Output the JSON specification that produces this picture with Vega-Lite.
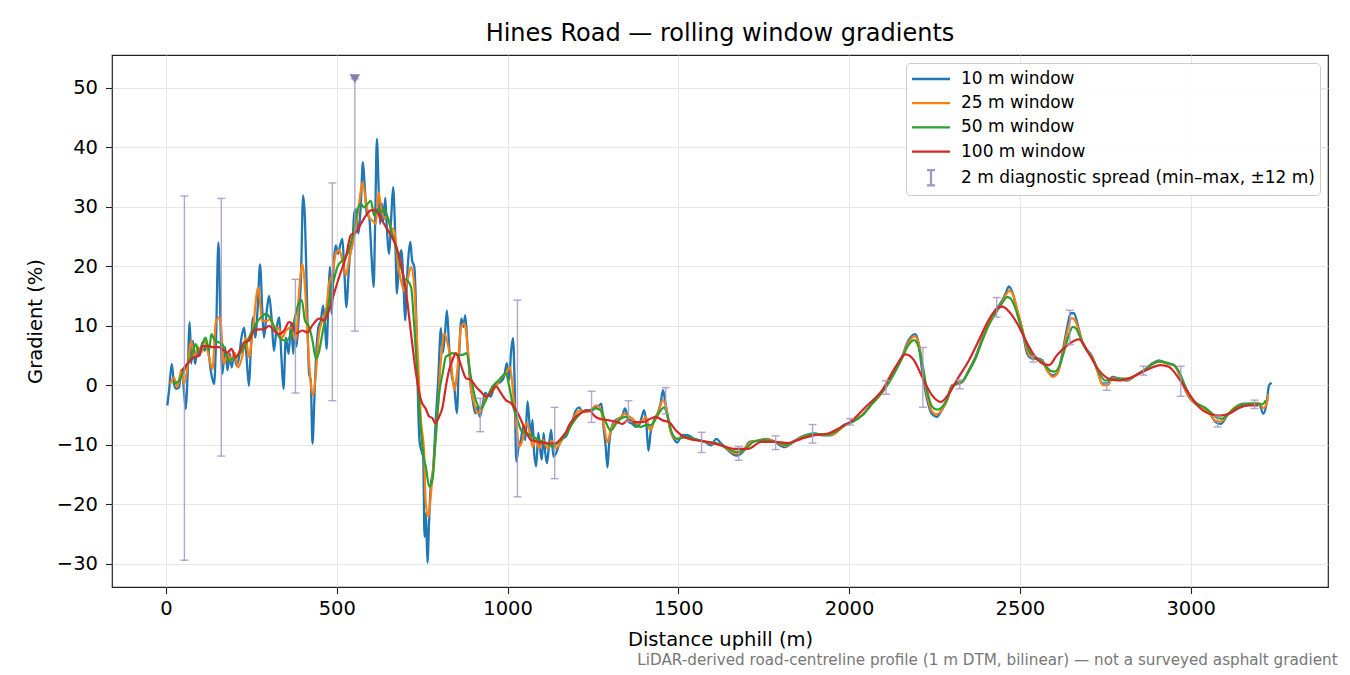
{
  "$schema": "https://vega.github.io/schema/vega-lite/v6.json",
  "padding": {"left": 24, "top": 21, "right": 0, "bottom": 0},
  "autosize": {"type": "pad"},
  "background": "white",
  "title": {
    "text": "LiDAR-derived road-centreline profile (1 m DTM, bilinear) — not a surveyed asphalt gradient",
    "orient": "bottom", "anchor": "end", "fontSize": 15.2, "fontWeight": "normal",
    "color": "#777777", "offset": 4, "dx": 9
  },
  "datasets": {
    "w10": [
      {"d":4,"g":-3.4},{"d":9,"g":-0.9},{"d":17,"g":3.6},{"d":23.5,"g":0.2},{"d":30,"g":-0.6},{"d":38,"g":-0.4},
      {"d":45,"g":2.4},{"d":51,"g":0.2},{"d":58,"g":-4.0},{"d":63,"g":1.3},{"d":69.5,"g":10.6},{"d":74,"g":3.6},
      {"d":79,"g":7.5},{"d":85,"g":3.6},{"d":92,"g":5.8},{"d":99,"g":5.0},{"d":106.5,"g":7.2},{"d":113,"g":5.8},
      {"d":121,"g":6.9},{"d":131,"g":2.5},{"d":141,"g":0.2},{"d":146,"g":6.4},{"d":153.5,"g":24.0},{"d":160,"g":9.7},
      {"d":165,"g":1.9},{"d":173,"g":6.4},{"d":180,"g":2.5},{"d":187,"g":5.3},{"d":192.5,"g":3.0},{"d":199,"g":5.3},
      {"d":207,"g":3.3},{"d":214,"g":4.7},{"d":221,"g":8.0},{"d":229,"g":9.7},{"d":236,"g":4.7},{"d":243,"g":-0.1},
      {"d":248,"g":5.5},{"d":255,"g":11.4},{"d":261,"g":8.0},{"d":268,"g":12.5},{"d":275.5,"g":20.3},{"d":282,"g":12.5},
      {"d":287,"g":8.0},{"d":295,"g":12.5},{"d":302,"g":15.0},{"d":309,"g":11.4},{"d":316,"g":5.8},{"d":324,"g":9.7},
      {"d":331,"g":11.4},{"d":338,"g":4.7},{"d":344,"g":-0.6},{"d":351,"g":8.0},{"d":359,"g":5.3},{"d":366,"g":10.3},
      {"d":373,"g":5.3},{"d":376,"g":10.5},{"d":382,"g":6.5},{"d":388,"g":10.9},{"d":395,"g":17.6},{"d":401.5,"g":31.9},
      {"d":407,"g":27.7},{"d":412,"g":16.5},{"d":419,"g":2.0},{"d":424,"g":0.8},{"d":429,"g":-9.8},{"d":434,"g":-3.1},
      {"d":439,"g":4.2},{"d":446.5,"g":9.8},{"d":453.5,"g":10.9},{"d":460,"g":13.4},{"d":466,"g":9.8},{"d":470,"g":6.1},
      {"d":475,"g":13.1},{"d":479.5,"g":19.9},{"d":485.5,"g":12.0},{"d":490,"g":19.3},{"d":497,"g":23.5},{"d":504,"g":22.1},
      {"d":510,"g":23.5},{"d":516.5,"g":24.6},{"d":522,"g":19.3},{"d":528.5,"g":13.1},{"d":534,"g":18.2},{"d":539,"g":22.1},
      {"d":546,"g":23.8},{"d":551,"g":28.8},{"d":556,"g":29.6},{"d":563,"g":25.5},{"d":570.5,"g":30.5},{"d":576.5,"g":37.5},
      {"d":582,"g":33.3},{"d":588,"g":28.8},{"d":595,"g":28.2},{"d":602,"g":21.5},{"d":608,"g":16.5},{"d":612.5,"g":27.7},
      {"d":617.5,"g":41.4},{"d":622.5,"g":33.3},{"d":627,"g":27.1},{"d":632,"g":30.5},{"d":637,"g":27.7},{"d":642,"g":31.5},
      {"d":646.5,"g":26.6},{"d":653.5,"g":22.1},{"d":659,"g":27.7},{"d":665,"g":33.3},{"d":671,"g":25.5},{"d":676,"g":15.4},
      {"d":683,"g":21.0},{"d":689,"g":22.7},{"d":695,"g":17.6},{"d":700,"g":10.9},{"d":705.5,"g":17.6},{"d":710.5,"g":22.1},
      {"d":715.5,"g":24.1},{"d":720.5,"g":21.0},{"d":727,"g":19.9},{"d":732,"g":13.1},{"d":737,"g":-0.3},{"d":742,"g":-9.2},
      {"d":748,"g":-11.0},{"d":753,"g":-12.0},{"d":757,"g":-25.5},{"d":761,"g":-21.5},{"d":765.5,"g":-29.8},{"d":770.5,"g":-22.6},
      {"d":775,"g":-17.0},{"d":782,"g":-14.2},{"d":790,"g":-5.8},{"d":797,"g":0.9},{"d":805,"g":9.6},{"d":810,"g":5.4},
      {"d":817,"g":8.7},{"d":822.5,"g":12.6},{"d":829,"g":6.5},{"d":837,"g":1.5},{"d":844,"g":-0.2},{"d":851.5,"g":-4.7},
      {"d":858.5,"g":5.4},{"d":865,"g":11.2},{"d":871,"g":9.8},{"d":876,"g":11.8},{"d":883,"g":6.5},{"d":890,"g":0.9},
      {"d":898,"g":-2.5},{"d":905.5,"g":-4.7},{"d":912,"g":-3.6},{"d":919,"g":-5.3},{"d":927,"g":-3.3},{"d":934.5,"g":-1.3},
      {"d":941.5,"g":-1.6},{"d":951,"g":-1.9},{"d":961,"g":-0.2},{"d":971,"g":0.3},{"d":980.5,"g":0.6},{"d":990,"g":1.5},
      {"d":998,"g":3.7},{"d":1005,"g":0.9},{"d":1010,"g":5.4},{"d":1016,"g":7.9},{"d":1021,"g":-0.2},{"d":1025.5,"g":-12.8},
      {"d":1032.5,"g":-10.3},{"d":1039,"g":-9.2},{"d":1046,"g":-6.9},{"d":1052,"g":-9.2},{"d":1058.5,"g":-2.7},{"d":1063.5,"g":-5.8},
      {"d":1068,"g":-9.2},{"d":1073,"g":-5.8},{"d":1078,"g":-11.4},{"d":1084,"g":-13.6},{"d":1090,"g":-8.0},{"d":1095.5,"g":-10.8},
      {"d":1100.5,"g":-12.5},{"d":1105.5,"g":-8.0},{"d":1110.5,"g":-11.4},{"d":1115.5,"g":-13.1},{"d":1122,"g":-9.7},{"d":1128,"g":-7.5},
      {"d":1134,"g":-12.0},{"d":1141.5,"g":-11.5},{"d":1151,"g":-10.0},{"d":1161,"g":-9.0},{"d":1171,"g":-8.6},{"d":1180.5,"g":-7.3},
      {"d":1190,"g":-5.9},{"d":1200,"g":-4.2},{"d":1210,"g":-3.7},{"d":1219.5,"g":-4.5},{"d":1229,"g":-4.2},{"d":1239,"g":-4.2},
      {"d":1249,"g":-4.2},{"d":1258,"g":-3.7},{"d":1268,"g":-3.4},{"d":1275,"g":-3.1},{"d":1281,"g":-7.0},{"d":1287.5,"g":-10.4},
      {"d":1292.5,"g":-13.8},{"d":1297.5,"g":-9.8},{"d":1305,"g":-7.0},{"d":1315,"g":-5.9},{"d":1325,"g":-5.6},{"d":1334.5,"g":-5.3},
      {"d":1344,"g":-3.9},{"d":1349,"g":-4.8},{"d":1356,"g":-6.2},{"d":1366,"g":-6.5},{"d":1375.5,"g":-7.0},{"d":1385,"g":-6.7},
      {"d":1393,"g":-5.3},{"d":1400,"g":-4.2},{"d":1406.5,"g":-6.5},{"d":1412.5,"g":-11.0},{"d":1419,"g":-7.9},{"d":1429,"g":-5.9},
      {"d":1438.5,"g":-4.8},{"d":1448,"g":-3.1},{"d":1455,"g":-0.8},{"d":1461,"g":-2.5},{"d":1467.5,"g":-4.8},{"d":1477,"g":-7.6},
      {"d":1487,"g":-9.0},{"d":1497,"g":-9.6},{"d":1511,"g":-8.4},{"d":1526,"g":-8.4},{"d":1547,"g":-9.0},{"d":1577,"g":-9.5},
      {"d":1596,"g":-10.1},{"d":1611,"g":-9.0},{"d":1625.5,"g":-9.8},{"d":1645,"g":-10.9},{"d":1669.5,"g":-11.8},{"d":1689,"g":-11.2},
      {"d":1708.5,"g":-9.5},{"d":1733,"g":-9.3},{"d":1757,"g":-9.0},{"d":1782,"g":-9.5},{"d":1811.5,"g":-10.4},{"d":1841,"g":-9.3},
      {"d":1870,"g":-8.4},{"d":1899.5,"g":-8.1},{"d":1924,"g":-8.4},{"d":1948,"g":-8.4},{"d":1968,"g":-7.6},{"d":1983,"g":-6.7},
      {"d":2007,"g":-6.2},{"d":2036.5,"g":-5.1},{"d":2066,"g":-3.1},{"d":2095,"g":-1.2},{"d":2115,"g":0.5},{"d":2134.5,"g":2.5},
      {"d":2154,"g":4.7},{"d":2173.5,"g":7.5},{"d":2193,"g":8.6},{"d":2203,"g":7.2},{"d":2212.5,"g":3.0},{"d":2227,"g":-2.0},
      {"d":2242,"g":-4.8},{"d":2256.5,"g":-5.3},{"d":2271,"g":-4.2},{"d":2286,"g":-2.6},{"d":2301,"g":0.0},{"d":2315.5,"g":0.2},
      {"d":2330,"g":0.5},{"d":2350,"g":2.5},{"d":2369.5,"g":4.7},{"d":2389,"g":7.8},{"d":2408.5,"g":10.6},{"d":2429,"g":12.6},
      {"d":2447.5,"g":14.2},{"d":2458,"g":15.4},{"d":2468,"g":16.6},{"d":2477.5,"g":15.7},{"d":2492,"g":12.6},{"d":2507,"g":9.3},
      {"d":2521.5,"g":5.3},{"d":2536,"g":4.5},{"d":2551,"g":4.5},{"d":2565.5,"g":4.2},{"d":2580,"g":2.5},{"d":2594.5,"g":1.7},
      {"d":2609,"g":2.0},{"d":2624,"g":5.3},{"d":2638.5,"g":9.8},{"d":2648.5,"g":12.1},{"d":2658,"g":12.1},{"d":2671,"g":9.8},
      {"d":2682.5,"g":7.3},{"d":2697,"g":5.9},{"d":2712,"g":4.8},{"d":2726.5,"g":2.5},{"d":2741,"g":0.3},{"d":2756,"g":0.3},
      {"d":2770.5,"g":1.4},{"d":2790,"g":1.1},{"d":2814.5,"g":0.8},{"d":2839,"g":1.7},{"d":2863,"g":2.5},{"d":2888,"g":3.7},
      {"d":2907,"g":4.2},{"d":2927,"g":3.7},{"d":2951,"g":3.4},{"d":2966,"g":2.0},{"d":2980.5,"g":-0.3},{"d":2995,"g":-2.0},
      {"d":3014.5,"g":-3.1},{"d":3034,"g":-3.65},{"d":3053.5,"g":-4.5},{"d":3073,"g":-6.2},{"d":3088,"g":-6.5},{"d":3107,"g":-5.1},
      {"d":3132,"g":-3.65},{"d":3156,"g":-3.1},{"d":3180.5,"g":-3.1},{"d":3200,"g":-3.1},{"d":3213,"g":-4.8},{"d":3222,"g":-3.1},
      {"d":3229.5,"g":0.0},{"d":3237,"g":0.4}
    ],
    "w25": [
      {"d":12,"g":0.2},{"d":23.5,"g":1.3},{"d":33,"g":-0.3},{"d":45,"g":2.5},{"d":53,"g":0.2},{"d":63,"g":3.0},
      {"d":74,"g":7.5},{"d":82,"g":4.7},{"d":94,"g":6.4},{"d":103.5,"g":5.5},{"d":113,"g":7.5},{"d":126,"g":4.7},
      {"d":136,"g":2.7},{"d":146,"g":10.6},{"d":158,"g":11.4},{"d":170,"g":3.6},{"d":180,"g":5.3},{"d":191.5,"g":4.1},
      {"d":201,"g":5.5},{"d":211,"g":3.0},{"d":224,"g":5.0},{"d":233.5,"g":8.0},{"d":243,"g":4.7},{"d":255,"g":9.7},
      {"d":270,"g":16.4},{"d":282,"g":10.8},{"d":295,"g":10.8},{"d":305,"g":11.1},{"d":316,"g":9.7},{"d":328,"g":9.7},
      {"d":341,"g":8.0},{"d":351,"g":9.2},{"d":366,"g":9.7},{"d":380,"g":7.5},{"d":390,"g":16.0},{"d":399.5,"g":20.4},
      {"d":407,"g":16.5},{"d":414,"g":8.7},{"d":424,"g":0.3},{"d":431,"g":-1.7},{"d":439,"g":2.0},{"d":448,"g":8.7},
      {"d":458,"g":10.9},{"d":470,"g":13.1},{"d":477.5,"g":17.1},{"d":487.5,"g":18.7},{"d":497,"g":22.1},{"d":507,"g":22.7},
      {"d":516.5,"g":21.0},{"d":526.5,"g":18.5},{"d":536,"g":21.0},{"d":546,"g":23.8},{"d":556,"g":26.6},{"d":566,"g":30.8},
      {"d":575.5,"g":34.1},{"d":585,"g":31.0},{"d":595,"g":28.2},{"d":604.5,"g":27.7},{"d":614.5,"g":27.1},{"d":622.5,"g":32.4},
      {"d":630,"g":29.9},{"d":639,"g":28.2},{"d":648.5,"g":28.2},{"d":658.5,"g":26.6},{"d":668,"g":26.0},{"d":678,"g":21.0},
      {"d":688,"g":17.6},{"d":697.5,"g":15.9},{"d":707,"g":17.6},{"d":717.5,"g":19.9},{"d":727,"g":16.5},{"d":737,"g":5.3},
      {"d":746.5,"g":-5.9},{"d":756,"g":-11.5},{"d":760.5,"g":-19.8},{"d":768.5,"g":-22.1},{"d":775,"g":-18.7},{"d":785,"g":-12.0},
      {"d":795,"g":-4.7},{"d":805,"g":4.25},{"d":815,"g":8.7},{"d":824.5,"g":7.0},{"d":834,"g":4.25},{"d":844,"g":-0.8},
      {"d":854,"g":3.1},{"d":864,"g":9.8},{"d":873.5,"g":10.4},{"d":883,"g":6.5},{"d":892.5,"g":-0.2},{"d":902.5,"g":-3.0},
      {"d":912,"g":-4.7},{"d":925,"g":-4.1},{"d":936.5,"g":-1.9},{"d":951,"g":-1.3},{"d":966,"g":-0.2},{"d":980.5,"g":1.2},
      {"d":995,"g":2.0},{"d":1007,"g":3.1},{"d":1016.5,"g":-1.3},{"d":1026.5,"g":-6.9},{"d":1034,"g":-10.3},{"d":1044,"g":-9.2},
      {"d":1054,"g":-6.4},{"d":1063.5,"g":-7.5},{"d":1073,"g":-10.3},{"d":1083,"g":-9.2},{"d":1092.5,"g":-10.6},{"d":1104,"g":-9.2},
      {"d":1117,"g":-10.6},{"d":1130,"g":-9.4},{"d":1142,"g":-10.6},{"d":1157,"g":-9.4},{"d":1171,"g":-8.0},{"d":1180.5,"g":-7.3},
      {"d":1200,"g":-4.8},{"d":1214.5,"g":-4.2},{"d":1229,"g":-4.5},{"d":1244,"g":-4.2},{"d":1258,"g":-3.4},{"d":1270,"g":-3.7},
      {"d":1283,"g":-7.0},{"d":1292.5,"g":-9.6},{"d":1302,"g":-7.6},{"d":1315,"g":-6.2},{"d":1327,"g":-5.6},{"d":1341.5,"g":-4.8},
      {"d":1351,"g":-5.1},{"d":1366,"g":-5.6},{"d":1380.5,"g":-6.5},{"d":1395,"g":-5.9},{"d":1405,"g":-5.3},{"d":1417.5,"g":-7.6},
      {"d":1429,"g":-6.2},{"d":1443.5,"g":-4.2},{"d":1455,"g":-2.5},{"d":1466,"g":-4.2},{"d":1477,"g":-7.6},{"d":1492,"g":-9.0},
      {"d":1516.5,"g":-8.7},{"d":1547,"g":-9.1},{"d":1577,"g":-9.5},{"d":1600,"g":-9.8},{"d":1625,"g":-10.0},{"d":1645,"g":-10.8},
      {"d":1670,"g":-11.5},{"d":1690,"g":-11.0},{"d":1710,"g":-9.6},{"d":1735,"g":-9.3},{"d":1760,"g":-9.1},{"d":1785,"g":-9.5},
      {"d":1812,"g":-10.2},{"d":1841,"g":-9.4},{"d":1870,"g":-8.5},{"d":1900,"g":-8.2},{"d":1925,"g":-8.4},{"d":1950,"g":-8.3},
      {"d":1970,"g":-7.6},{"d":1985,"g":-6.8},{"d":2007,"g":-6.2},{"d":2036,"g":-5.1},{"d":2066,"g":-3.2},{"d":2095,"g":-1.3},
      {"d":2115,"g":0.4},{"d":2135,"g":2.4},{"d":2154,"g":4.6},{"d":2174,"g":7.2},{"d":2192,"g":8.2},{"d":2205,"g":6.8},
      {"d":2214,"g":3.5},{"d":2228,"g":-1.5},{"d":2243,"g":-4.4},{"d":2257,"g":-4.9},{"d":2272,"g":-4.0},{"d":2287,"g":-2.5},
      {"d":2301,"g":-0.2},{"d":2316,"g":0.3},{"d":2330,"g":0.5},{"d":2350,"g":2.4},{"d":2370,"g":4.6},{"d":2389,"g":7.6},
      {"d":2409,"g":10.4},{"d":2429,"g":12.4},{"d":2448,"g":14.0},{"d":2460,"g":15.3},{"d":2470,"g":15.9},{"d":2480,"g":15.2},
      {"d":2494,"g":12.3},{"d":2509,"g":9.0},{"d":2523,"g":5.6},{"d":2537,"g":4.6},{"d":2552,"g":4.4},{"d":2566,"g":4.0},
      {"d":2581,"g":2.4},{"d":2596,"g":1.4},{"d":2610,"g":2.0},{"d":2625,"g":5.1},{"d":2640,"g":9.3},{"d":2651,"g":11.3},
      {"d":2660,"g":11.0},{"d":2672,"g":9.3},{"d":2684,"g":7.0},{"d":2698,"g":5.7},{"d":2713,"g":4.6},{"d":2728,"g":2.2},
      {"d":2743,"g":0.0},{"d":2757,"g":0.0},{"d":2771,"g":1.2},{"d":2790,"g":1.1},{"d":2815,"g":0.9},{"d":2839,"g":1.7},
      {"d":2863,"g":2.5},{"d":2888,"g":3.6},{"d":2907,"g":4.0},{"d":2927,"g":3.7},{"d":2951,"g":3.4},{"d":2966,"g":2.0},
      {"d":2981,"g":-0.3},{"d":2995,"g":-1.9},{"d":3015,"g":-3.1},{"d":3034,"g":-3.7},{"d":3054,"g":-4.6},{"d":3073,"g":-6.0},
      {"d":3088,"g":-6.1},{"d":3107,"g":-5.0},{"d":3132,"g":-3.6},{"d":3156,"g":-3.2},{"d":3181,"g":-3.1},{"d":3200,"g":-3.0},
      {"d":3213,"g":-3.8},{"d":3222,"g":-3.2},{"d":3227.5,"g":-1.5}
    ],
    "w50": [
      {"d":20,"g":0.3},{"d":33,"g":0.5},{"d":48,"g":1.9},{"d":63,"g":3.6},{"d":77,"g":5.3},{"d":87,"g":6.9},
      {"d":97,"g":5.5},{"d":106.5,"g":6.9},{"d":116,"g":8.0},{"d":126,"g":5.8},{"d":133,"g":8.6},{"d":143,"g":7.5},
      {"d":155.5,"g":7.2},{"d":165,"g":6.9},{"d":175,"g":5.5},{"d":185,"g":4.1},{"d":194.5,"g":4.4},{"d":204,"g":4.7},
      {"d":219,"g":5.5},{"d":233.5,"g":6.9},{"d":248,"g":8.6},{"d":263,"g":10.3},{"d":277.5,"g":11.4},{"d":292,"g":12.0},
      {"d":307,"g":11.1},{"d":321.5,"g":9.2},{"d":336,"g":7.8},{"d":351,"g":7.5},{"d":366,"g":8.6},{"d":380,"g":12.0},
      {"d":390,"g":14.0},{"d":397.5,"g":14.3},{"d":407,"g":10.9},{"d":419,"g":9.8},{"d":429,"g":7.5},{"d":439,"g":4.5},
      {"d":448,"g":5.6},{"d":458,"g":8.7},{"d":468,"g":11.5},{"d":477.5,"g":14.0},{"d":489,"g":17.1},{"d":502,"g":19.9},
      {"d":516.5,"g":21.0},{"d":531,"g":22.1},{"d":546,"g":24.9},{"d":560.5,"g":29.4},{"d":570.5,"g":30.5},{"d":580,"g":29.9},
      {"d":590,"g":30.5},{"d":600,"g":31.0},{"d":609.5,"g":28.5},{"d":619,"g":29.6},{"d":629,"g":29.1},{"d":639,"g":29.6},
      {"d":648.5,"g":28.2},{"d":658.5,"g":26.3},{"d":668,"g":24.3},{"d":678,"g":22.1},{"d":688,"g":19.9},{"d":697.5,"g":17.9},
      {"d":707,"g":17.6},{"d":717.5,"g":16.5},{"d":727,"g":9.8},{"d":737,"g":0.8},{"d":746.5,"g":-7.6},{"d":756,"g":-12.6},
      {"d":760.5,"g":-13.6},{"d":770.5,"g":-17.0},{"d":780,"g":-15.9},{"d":790,"g":-8.6},{"d":800,"g":-1.3},{"d":810,"g":2.0},
      {"d":819.5,"g":4.8},{"d":829,"g":5.1},{"d":839,"g":5.4},{"d":853.5,"g":5.1},{"d":868,"g":5.1},{"d":880,"g":5.4},
      {"d":892.5,"g":1.5},{"d":907,"g":-2.5},{"d":922,"g":-3.9},{"d":936.5,"g":-2.5},{"d":956,"g":-0.2},{"d":975.5,"g":0.9},
      {"d":995,"g":2.0},{"d":1005,"g":-0.2},{"d":1016.5,"g":-3.6},{"d":1029,"g":-5.8},{"d":1042,"g":-7.8},{"d":1054,"g":-8.0},
      {"d":1073,"g":-8.6},{"d":1092.5,"g":-9.2},{"d":1112.5,"g":-9.7},{"d":1132,"g":-10.3},{"d":1151,"g":-9.4},{"d":1171,"g":-8.3},
      {"d":1180.5,"g":-7.3},{"d":1200,"g":-5.6},{"d":1219.5,"g":-4.5},{"d":1239,"g":-4.2},{"d":1258,"g":-3.9},{"d":1273,"g":-4.2},
      {"d":1287.5,"g":-6.2},{"d":1302,"g":-7.6},{"d":1317,"g":-6.5},{"d":1331.5,"g":-5.6},{"d":1346,"g":-5.3},{"d":1361,"g":-5.9},
      {"d":1375.5,"g":-6.7},{"d":1390,"g":-7.0},{"d":1405,"g":-6.7},{"d":1419.5,"g":-6.7},{"d":1434,"g":-5.6},{"d":1448.5,"g":-4.2},
      {"d":1458,"g":-3.7},{"d":1468,"g":-5.1},{"d":1482,"g":-8.1},{"d":1497,"g":-9.0},{"d":1522,"g":-8.7},{"d":1550,"g":-9.1},
      {"d":1580,"g":-9.5},{"d":1610,"g":-9.7},{"d":1640,"g":-10.5},{"d":1670,"g":-11.2},{"d":1695,"g":-10.8},{"d":1720,"g":-9.5},
      {"d":1750,"g":-9.2},{"d":1785,"g":-9.5},{"d":1815,"g":-10.0},{"d":1845,"g":-9.3},{"d":1875,"g":-8.5},{"d":1905,"g":-8.2},
      {"d":1935,"g":-8.3},{"d":1960,"g":-7.8},{"d":1985,"g":-6.8},{"d":2010,"g":-6.1},{"d":2040,"g":-5.0},{"d":2066,"g":-3.2},
      {"d":2095,"g":-1.3},{"d":2115,"g":0.3},{"d":2135,"g":2.3},{"d":2154,"g":4.4},{"d":2172,"g":6.6},{"d":2190,"g":7.6},
      {"d":2203,"g":6.5},{"d":2214,"g":3.8},{"d":2228,"g":-0.8},{"d":2243,"g":-3.6},{"d":2258,"g":-4.1},{"d":2273,"g":-3.6},
      {"d":2288,"g":-2.2},{"d":2302,"g":-0.3},{"d":2316,"g":0.4},{"d":2330,"g":0.6},{"d":2350,"g":2.3},{"d":2370,"g":4.5},
      {"d":2390,"g":7.5},{"d":2410,"g":10.2},{"d":2430,"g":12.2},{"d":2448,"g":13.8},{"d":2462,"g":14.8},{"d":2472,"g":14.6},
      {"d":2485,"g":13.2},{"d":2498,"g":10.8},{"d":2512,"g":8.2},{"d":2527,"g":5.8},{"d":2542,"g":4.6},{"d":2557,"g":4.2},
      {"d":2572,"g":3.5},{"d":2588,"g":2.5},{"d":2602,"g":2.3},{"d":2616,"g":3.3},{"d":2630,"g":5.8},{"d":2643,"g":8.4},
      {"d":2655,"g":9.8},{"d":2665,"g":9.5},{"d":2677,"g":8.0},{"d":2690,"g":6.4},{"d":2705,"g":5.1},{"d":2720,"g":3.6},
      {"d":2735,"g":1.8},{"d":2750,"g":0.8},{"d":2765,"g":0.9},{"d":2790,"g":1.1},{"d":2815,"g":1.1},{"d":2840,"g":1.7},
      {"d":2865,"g":2.6},{"d":2890,"g":3.6},{"d":2910,"g":4.0},{"d":2930,"g":3.8},{"d":2955,"g":3.2},{"d":2970,"g":1.8},
      {"d":2985,"g":-0.3},{"d":3000,"g":-2.0},{"d":3020,"g":-3.1},{"d":3040,"g":-3.7},{"d":3060,"g":-4.6},{"d":3078,"g":-5.5},
      {"d":3092,"g":-5.6},{"d":3110,"g":-4.8},{"d":3135,"g":-3.6},{"d":3160,"g":-3.2},{"d":3185,"g":-3.1},{"d":3205,"g":-3.2},
      {"d":3215,"g":-3.0},{"d":3220,"g":-2.5}
    ],
    "w100": [
      {"d":45,"g":2.4},{"d":63,"g":3.6},{"d":82,"g":4.7},{"d":97,"g":5.0},{"d":106.5,"g":6.6},{"d":121,"g":6.6},
      {"d":141,"g":6.4},{"d":155,"g":6.4},{"d":170,"g":5.8},{"d":180,"g":5.5},{"d":191.5,"g":6.1},{"d":204,"g":4.7},
      {"d":214,"g":5.5},{"d":229,"g":7.2},{"d":243,"g":7.5},{"d":258,"g":9.2},{"d":273,"g":9.4},{"d":287,"g":9.4},
      {"d":302,"g":10.0},{"d":316,"g":9.2},{"d":331,"g":8.6},{"d":346,"g":9.2},{"d":360,"g":10.6},{"d":370,"g":10.3},
      {"d":380,"g":8.7},{"d":399.5,"g":9.2},{"d":414,"g":8.9},{"d":429,"g":10.1},{"d":448,"g":11.2},{"d":463,"g":10.9},
      {"d":477.5,"g":12.6},{"d":492,"g":15.4},{"d":507,"g":18.2},{"d":526.5,"g":21.5},{"d":541,"g":25.2},{"d":556,"g":25.7},
      {"d":570.5,"g":27.1},{"d":585,"g":28.5},{"d":600,"g":29.4},{"d":614.5,"g":29.4},{"d":629,"g":28.0},{"d":644,"g":26.6},
      {"d":658.5,"g":25.2},{"d":673,"g":23.5},{"d":688,"g":20.4},{"d":702.5,"g":15.9},{"d":717.5,"g":8.7},{"d":732,"g":2.0},
      {"d":746.5,"g":-2.5},{"d":761,"g":-4.0},{"d":770.5,"g":-5.25},{"d":780,"g":-5.5},{"d":788,"g":-6.4},{"d":800,"g":-5.25},
      {"d":810,"g":-3.6},{"d":819.5,"g":-0.2},{"d":829,"g":2.6},{"d":839,"g":4.25},{"d":848.5,"g":5.4},{"d":858.5,"g":4.25},
      {"d":868,"g":2.6},{"d":878,"g":1.2},{"d":892.5,"g":0.9},{"d":907,"g":-0.2},{"d":922,"g":-1.1},{"d":936.5,"g":-1.9},
      {"d":951,"g":-1.3},{"d":966,"g":-0.2},{"d":980.5,"g":-1.3},{"d":995,"g":-2.5},{"d":1010,"g":-3.0},{"d":1024.5,"g":-4.1},
      {"d":1039,"g":-5.8},{"d":1054,"g":-7.8},{"d":1068.5,"g":-9.2},{"d":1083,"g":-9.4},{"d":1098,"g":-9.6},{"d":1112.5,"g":-9.7},
      {"d":1127.5,"g":-9.8},{"d":1142,"g":-9.7},{"d":1157,"g":-8.9},{"d":1171.5,"g":-7.8},{"d":1180.5,"g":-6.7},{"d":1200,"g":-5.3},
      {"d":1219.5,"g":-4.5},{"d":1239,"g":-4.2},{"d":1253.5,"g":-5.1},{"d":1268,"g":-5.6},{"d":1297.5,"g":-5.9},{"d":1322,"g":-6.2},
      {"d":1336.5,"g":-6.5},{"d":1351,"g":-5.9},{"d":1371,"g":-6.2},{"d":1395,"g":-6.2},{"d":1419.5,"g":-5.6},{"d":1434,"g":-5.3},
      {"d":1454,"g":-5.9},{"d":1473.5,"g":-6.2},{"d":1493,"g":-7.6},{"d":1517.5,"g":-8.7},{"d":1547,"g":-9.2},{"d":1586,"g":-9.5},
      {"d":1625.5,"g":-10.1},{"d":1665,"g":-10.7},{"d":1704,"g":-10.7},{"d":1742.5,"g":-9.5},{"d":1782,"g":-9.5},{"d":1821,"g":-9.7},
      {"d":1860,"g":-9.0},{"d":1899.5,"g":-8.4},{"d":1938.5,"g":-8.1},{"d":1968,"g":-7.3},{"d":2007,"g":-6.0},{"d":2048,"g":-3.65},
      {"d":2097,"g":-0.8},{"d":2136,"g":3.1},{"d":2165,"g":5.2},{"d":2190,"g":4.2},{"d":2214,"g":1.4},{"d":2243,"g":-1.7},
      {"d":2268,"g":-2.8},{"d":2292,"g":-1.4},{"d":2321,"g":1.4},{"d":2351,"g":4.2},{"d":2380,"g":7.6},{"d":2409,"g":11.0},
      {"d":2433.5,"g":12.9},{"d":2448,"g":13.2},{"d":2468,"g":12.4},{"d":2492,"g":10.4},{"d":2516.5,"g":7.6},{"d":2541,"g":5.1},
      {"d":2565.5,"g":3.65},{"d":2585,"g":3.4},{"d":2609,"g":5.1},{"d":2638.5,"g":6.7},{"d":2673,"g":7.7},{"d":2702,"g":5.3},
      {"d":2731.5,"g":2.5},{"d":2761,"g":1.1},{"d":2790,"g":0.8},{"d":2829,"g":1.4},{"d":2868,"g":2.5},{"d":2912,"g":3.4},
      {"d":2936,"g":3.1},{"d":2966,"g":1.1},{"d":2995,"g":-1.4},{"d":3024,"g":-3.65},{"d":3054,"g":-4.8},{"d":3083,"g":-5.1},
      {"d":3112,"g":-4.8},{"d":3142,"g":-3.8},{"d":3171,"g":-3.4},{"d":3198,"g":-3.4}
    ],
    "spread": [
      {"d":54,"lo":-29.4,"hi":31.8},{"d":162,"lo":-11.9,"hi":31.4},{"d":379,"lo":-1.3,"hi":17.8},{"d":487,"lo":-2.6,"hi":34.0},
      {"d":553,"lo":9.1,"hi":51.5},{"d":920,"lo":-7.8,"hi":-2.2},{"d":1029,"lo":-18.75,"hi":14.3},{"d":1138,"lo":-15.7,"hi":-3.7},
      {"d":1246,"lo":-6.25,"hi":-1.0},{"d":1354,"lo":-6.1,"hi":-2.6},{"d":1463,"lo":-4.8,"hi":-0.4},{"d":1568,"lo":-11.3,"hi":-7.9},
      {"d":1677,"lo":-12.6,"hi":-10.3},{"d":1785,"lo":-10.8,"hi":-8.5},{"d":1893,"lo":-9.7,"hi":-6.6},{"d":2003,"lo":-6.7,"hi":-5.6},
      {"d":2108,"lo":-1.5,"hi":0.75},{"d":2216,"lo":-3.7,"hi":6.35},{"d":2324,"lo":-0.6,"hi":0.9},{"d":2432,"lo":11.45,"hi":14.75},
      {"d":2539,"lo":3.9,"hi":4.9},{"d":2646,"lo":6.8,"hi":12.6},{"d":2754,"lo":-0.85,"hi":0.3},{"d":2862,"lo":1.7,"hi":3.2},
      {"d":2971,"lo":-1.85,"hi":3.2},{"d":3079,"lo":-7.0,"hi":-5.2},{"d":3187,"lo":-3.9,"hi":-2.5}
    ],
    "clipped": [
      {"d":553,"g":51.5}
    ]
  },
  "vconcat": [
    {
      "title": {
        "text": "Hines Road — rolling window gradients",
        "fontSize": 24, "fontWeight": "normal", "color": "#000000",
        "anchor": "middle", "baseline": "alphabetic", "offset": -10
      },
      "width": 1216,
      "height": 532,
      "layer": [
        {
          "data": {"name": "w10"},
          "mark": {"type": "line", "strokeWidth": 2.3, "interpolate": "monotone"},
          "encoding": {
            "x": {
              "field": "d", "type": "quantitative",
              "scale": {"domain": [-158, 3402], "nice": false, "zero": false},
              "axis": {"title": "Distance uphill (m)", "values": [0, 500, 1000, 1500, 2000, 2500, 3000], "format": "d", "labelPadding": 6, "titlePadding": 12}
            },
            "y": {
              "field": "g", "type": "quantitative", "title": "Gradient (%)",
              "scale": {"domain": [-33.9, 55.5], "nice": false, "zero": false},
              "axis": {"title": "Gradient (%)", "values": [-30, -20, -10, 0, 10, 20, 30, 40, 50], "labelPadding": 8, "titlePadding": 11}
            },
            "color": {
              "datum": "10 m window", "type": "nominal",
              "scale": {
                "domain": ["10 m window", "25 m window", "50 m window", "100 m window", "2 m diagnostic spread (min–max, ±12 m)"],
                "range": ["#1f77b4", "#ff7f0e", "#2ca02c", "#d62728", "#a596c4"]
              },
              "legend": {
                "title": null, "orient": "top-right", "offset": 8, "padding": 5,
                "fillColor": "rgba(255,255,255,0.85)", "strokeColor": "#cccccc", "cornerRadius": 4,
                "labelFontSize": 17, "labelColor": "#000000", "labelLimit": 500,
                "symbolType": "M-2,0L2,0", "symbolSize": 361, "symbolStrokeWidth": 2.3,
                "rowPadding": 5.2, "labelOffset": 19, "symbolOffset": 9,
                "encode": {
                  "symbols": {
                    "update": {
                      "shape": {"signal": "indexof('' + datum.value, 'spread') >= 0 ? 'M0,-0.8L0,0.8M-0.42,-0.8L0.42,-0.8M-0.42,0.8L0.42,0.8' : 'M-2,0L2,0'"}
                    }
                  }
                }
              }
            }
          }
        },
        {
          "data": {"name": "w25"},
          "mark": {"type": "line", "strokeWidth": 2.2, "interpolate": "monotone"},
          "encoding": {
            "x": {"field": "d", "type": "quantitative"},
            "y": {"field": "g", "type": "quantitative", "title": "Gradient (%)"},
            "color": {"datum": "25 m window", "type": "nominal"}
          }
        },
        {
          "data": {"name": "w50"},
          "mark": {"type": "line", "strokeWidth": 2.2, "interpolate": "monotone"},
          "encoding": {
            "x": {"field": "d", "type": "quantitative"},
            "y": {"field": "g", "type": "quantitative", "title": "Gradient (%)"},
            "color": {"datum": "50 m window", "type": "nominal"}
          }
        },
        {
          "data": {"name": "w100"},
          "mark": {"type": "line", "strokeWidth": 2.2, "interpolate": "monotone"},
          "encoding": {
            "x": {"field": "d", "type": "quantitative"},
            "y": {"field": "g", "type": "quantitative", "title": "Gradient (%)"},
            "color": {"datum": "100 m window", "type": "nominal"}
          }
        },
        {
          "data": {"name": "spread"},
          "mark": {"type": "errorbar", "ticks": true, "size": 8, "thickness": 1.4, "opacity": 0.85},
          "encoding": {
            "x": {"field": "d", "type": "quantitative"},
            "y": {"field": "lo", "type": "quantitative", "title": "Gradient (%)"},
            "y2": {"field": "hi"},
            "color": {"datum": "2 m diagnostic spread (min–max, ±12 m)", "type": "nominal"}
          }
        },
        {
          "data": {"name": "clipped"},
          "mark": {"type": "point", "shape": "triangle-down", "filled": true, "size": 110, "color": "#8a7cab", "opacity": 1},
          "encoding": {
            "x": {"field": "d", "type": "quantitative"},
            "y": {"field": "g", "type": "quantitative", "title": "Gradient (%)"}
          }
        }
      ]
    }
  ],
  "config": {
    "font": "DejaVu Sans",
    "view": {"stroke": "#222222", "strokeWidth": 1.2},
    "axis": {
      "domain": false, "grid": true, "gridColor": "#e6e6e6", "gridWidth": 1,
      "ticks": true, "tickColor": "#222222", "tickSize": 6.5, "tickWidth": 1.1,
      "labelFontSize": 19.5, "labelColor": "#000000", "labelFlush": false,
      "titleFontSize": 19.5, "titleFontWeight": "normal", "titleColor": "#000000"
    }
  }
}
